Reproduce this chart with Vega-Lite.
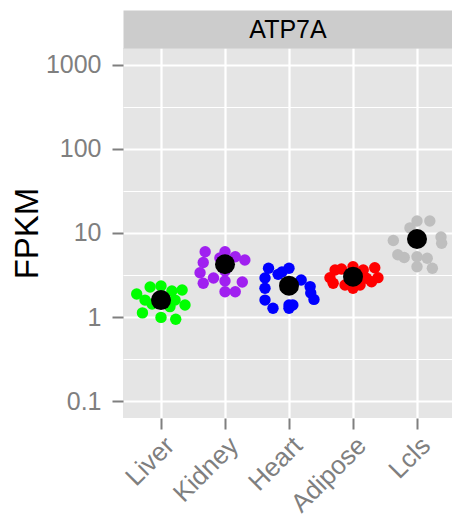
{
  "$schema": "https://vega.github.io/schema/vega-lite/v6.json",
  "width": 329,
  "height": 370,
  "autosize": {"type": "none"},
  "padding": {"left": 123, "top": 48, "right": 0, "bottom": 105},
  "background": "white",
  "view": {"fill": "#E5E5E5", "stroke": null},
  "config": {"font": "Liberation Sans"},
  "datasets": {
    "samples": [
      {"tissue": "Liver", "jitter": -0.38, "fpkm": 1.88},
      {"tissue": "Liver", "jitter": -0.17, "fpkm": 2.28},
      {"tissue": "Liver", "jitter": 0.0, "fpkm": 2.34},
      {"tissue": "Liver", "jitter": 0.17, "fpkm": 2.04},
      {"tissue": "Liver", "jitter": 0.33, "fpkm": 2.10},
      {"tissue": "Liver", "jitter": 0.375, "fpkm": 1.39},
      {"tissue": "Liver", "jitter": -0.29, "fpkm": 1.12},
      {"tissue": "Liver", "jitter": 0.0, "fpkm": 0.99},
      {"tissue": "Liver", "jitter": 0.23, "fpkm": 0.94},
      {"tissue": "Liver", "jitter": -0.25, "fpkm": 1.59},
      {"tissue": "Liver", "jitter": 0.22, "fpkm": 1.59},
      {"tissue": "Liver", "jitter": 0.14, "fpkm": 1.33},
      {"tissue": "Liver", "jitter": -0.14, "fpkm": 1.43},
      {"tissue": "Kidney", "jitter": -0.31, "fpkm": 5.99},
      {"tissue": "Kidney", "jitter": -0.34, "fpkm": 4.45},
      {"tissue": "Kidney", "jitter": -0.39, "fpkm": 3.36},
      {"tissue": "Kidney", "jitter": -0.34, "fpkm": 2.52},
      {"tissue": "Kidney", "jitter": -0.18, "fpkm": 2.91},
      {"tissue": "Kidney", "jitter": 0.0, "fpkm": 5.99},
      {"tissue": "Kidney", "jitter": 0.16, "fpkm": 5.22},
      {"tissue": "Kidney", "jitter": 0.31, "fpkm": 4.77},
      {"tissue": "Kidney", "jitter": 0.0, "fpkm": 2.68},
      {"tissue": "Kidney", "jitter": 0.0, "fpkm": 2.00},
      {"tissue": "Kidney", "jitter": 0.16, "fpkm": 2.00},
      {"tissue": "Kidney", "jitter": 0.27, "fpkm": 2.61},
      {"tissue": "Kidney", "jitter": 0.0, "fpkm": 3.53},
      {"tissue": "Kidney", "jitter": -0.08, "fpkm": 5.04},
      {"tissue": "Heart", "jitter": -0.32, "fpkm": 3.80},
      {"tissue": "Heart", "jitter": -0.375, "fpkm": 2.91},
      {"tissue": "Heart", "jitter": -0.17, "fpkm": 3.22},
      {"tissue": "Heart", "jitter": 0.0, "fpkm": 3.80},
      {"tissue": "Heart", "jitter": 0.19, "fpkm": 2.76},
      {"tissue": "Heart", "jitter": 0.33, "fpkm": 2.30},
      {"tissue": "Heart", "jitter": 0.34, "fpkm": 1.93},
      {"tissue": "Heart", "jitter": 0.39, "fpkm": 1.62},
      {"tissue": "Heart", "jitter": -0.375, "fpkm": 2.20},
      {"tissue": "Heart", "jitter": -0.375, "fpkm": 1.59},
      {"tissue": "Heart", "jitter": -0.25, "fpkm": 1.27},
      {"tissue": "Heart", "jitter": 0.0, "fpkm": 1.39},
      {"tissue": "Heart", "jitter": 0.06, "fpkm": 1.39},
      {"tissue": "Heart", "jitter": 0.0, "fpkm": 1.27},
      {"tissue": "Heart", "jitter": -0.11, "fpkm": 3.43},
      {"tissue": "Adipose", "jitter": -0.36, "fpkm": 2.94},
      {"tissue": "Adipose", "jitter": -0.28, "fpkm": 3.63},
      {"tissue": "Adipose", "jitter": -0.18, "fpkm": 3.73},
      {"tissue": "Adipose", "jitter": -0.31, "fpkm": 2.52},
      {"tissue": "Adipose", "jitter": 0.0, "fpkm": 3.97},
      {"tissue": "Adipose", "jitter": 0.16, "fpkm": 3.63},
      {"tissue": "Adipose", "jitter": 0.34, "fpkm": 3.86},
      {"tissue": "Adipose", "jitter": 0.39, "fpkm": 2.94},
      {"tissue": "Adipose", "jitter": 0.29, "fpkm": 2.63},
      {"tissue": "Adipose", "jitter": 0.0, "fpkm": 2.20},
      {"tissue": "Adipose", "jitter": 0.21, "fpkm": 2.89},
      {"tissue": "Adipose", "jitter": -0.125, "fpkm": 2.40},
      {"tissue": "Adipose", "jitter": 0.11, "fpkm": 2.40},
      {"tissue": "Lcls", "jitter": 0.0, "fpkm": 13.9},
      {"tissue": "Lcls", "jitter": 0.2, "fpkm": 13.9},
      {"tissue": "Lcls", "jitter": -0.37, "fpkm": 8.14},
      {"tissue": "Lcls", "jitter": 0.375, "fpkm": 8.96},
      {"tissue": "Lcls", "jitter": 0.385, "fpkm": 7.54},
      {"tissue": "Lcls", "jitter": -0.2, "fpkm": 5.11},
      {"tissue": "Lcls", "jitter": 0.0, "fpkm": 5.22},
      {"tissue": "Lcls", "jitter": 0.16, "fpkm": 5.00},
      {"tissue": "Lcls", "jitter": 0.0, "fpkm": 3.97},
      {"tissue": "Lcls", "jitter": 0.24, "fpkm": 3.80},
      {"tissue": "Lcls", "jitter": -0.11, "fpkm": 11.5},
      {"tissue": "Lcls", "jitter": -0.3, "fpkm": 5.5}
    ],
    "means": [
      {"tissue": "Liver", "fpkm": 1.59},
      {"tissue": "Kidney", "fpkm": 4.24},
      {"tissue": "Heart", "fpkm": 2.36},
      {"tissue": "Adipose", "fpkm": 3.02},
      {"tissue": "Lcls", "fpkm": 8.49}
    ]
  },
  "layer": [
    {
      "data": {"name": "samples"},
      "mark": {"type": "circle", "size": 130, "opacity": 1},
      "encoding": {
        "x": {
          "field": "tissue",
          "type": "nominal",
          "scale": {"type": "band", "domain": ["Liver", "Kidney", "Heart", "Adipose", "Lcls"], "paddingInner": 0, "paddingOuter": 0.0703, "align": 0.667},
          "axis": {
            "orient": "bottom",
            "title": null,
            "bandPosition": 0.5,
            "domain": false,
            "grid": true,
            "gridColor": "white",
            "gridWidth": 2.2,
            "ticks": true,
            "tickSize": 11,
            "tickWidth": 2,
            "tickColor": "#7F7F7F",
            "labelAngle": -45,
            "labelAlign": "right",
            "labelBaseline": "top",
            "labelPadding": 3,
            "labelFontSize": 26,
            "labelColor": "#7F7F7F"
          }
        },
        "xOffset": {"field": "jitter", "type": "quantitative", "scale": {"domain": [-0.5, 0.5]}},
        "y": {
          "field": "fpkm",
          "type": "quantitative",
          "scale": {"type": "log", "domain": [0.0628, 1592], "nice": false, "zero": false},
          "axis": {
            "orient": "left",
            "values": [0.1, 1, 10, 100, 1000],
            "format": "~g",
            "domain": false,
            "grid": true,
            "gridColor": "white",
            "gridWidth": 2.2,
            "tickSize": 11,
            "tickWidth": 2,
            "tickColor": "#7F7F7F",
            "labelPadding": 11,
            "labelFontSize": 25,
            "labelColor": "#7F7F7F",
            "title": "FPKM",
            "titleFontSize": 33,
            "titleFontWeight": "normal",
            "titleColor": "black",
            "titleX": -86,
            "titleY": 185,
            "titleBaseline": "alphabetic"
          }
        },
        "color": {
          "field": "tissue",
          "type": "nominal",
          "scale": {"domain": ["Liver", "Kidney", "Heart", "Adipose", "Lcls"], "range": ["#00FF00", "#A020F0", "#0000FF", "#FF0000", "#BEBEBE"]},
          "legend": null
        }
      }
    },
    {
      "data": {"name": "means"},
      "mark": {"type": "circle", "size": 400, "color": "black", "opacity": 1},
      "encoding": {
        "x": {
          "field": "tissue",
          "type": "nominal",
          "scale": {"type": "band", "domain": ["Liver", "Kidney", "Heart", "Adipose", "Lcls"], "paddingInner": 0, "paddingOuter": 0.0703, "align": 0.667},
          "axis": {
            "orient": "top",
            "offset": 19,
            "domain": true,
            "domainColor": "#CCCCCC",
            "domainWidth": 38,
            "domainCap": "butt",
            "grid": false,
            "ticks": false,
            "labels": false,
            "title": "ATP7A",
            "titleFontSize": 25,
            "titleFontWeight": "normal",
            "titleColor": "black",
            "titleY": 0,
            "titleBaseline": "middle"
          }
        },
        "y": {
          "field": "fpkm",
          "type": "quantitative",
          "scale": {"type": "log", "domain": [0.0628, 1592], "nice": false, "zero": false},
          "axis": {
            "orient": "left",
            "values": [0.0316, 0.316, 3.16, 31.6, 316],
            "domain": false,
            "ticks": false,
            "labels": false,
            "title": null,
            "grid": true,
            "gridColor": "white",
            "gridWidth": 1
          }
        }
      }
    }
  ],
  "resolve": {"axis": {"x": "independent", "y": "independent"}}
}
